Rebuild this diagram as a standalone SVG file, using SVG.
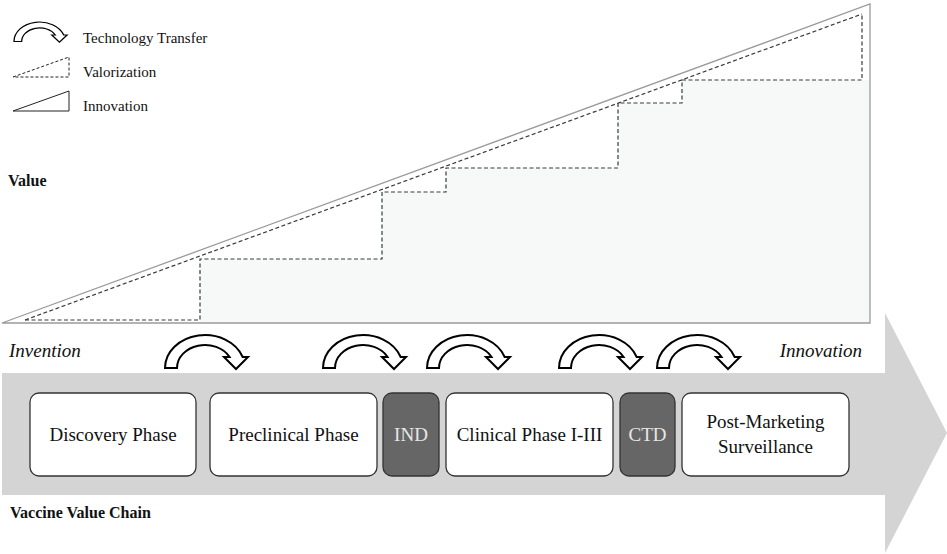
<svg xmlns="http://www.w3.org/2000/svg" xmlns:xlink="http://www.w3.org/1999/xlink" width="947" height="554" viewBox="0 0 947 554" font-family="'Liberation Serif', 'DejaVu Serif', serif">
  <defs>
    <style>
      text { font-family: 'Liberation Serif', 'DejaVu Serif', serif; }
      .legend { font-size: 15px; fill: #111; }
      .label { font-size: 19px; fill: #111; text-anchor: middle; }
      .label-dark { font-size: 19px; fill: #e6e6e6; text-anchor: middle; }
      .box { fill: #ffffff; stroke: #333333; stroke-width: 1.3; }
      .box-dark { fill: #666666; stroke: #333333; stroke-width: 1.3; }
      .dash { fill: none; stroke: #3a3a3a; stroke-width: 1.2; stroke-dasharray: 4 2.5; }
      .transfer { fill: #ffffff; stroke: #000000; stroke-width: 2; stroke-linejoin: miter; }
    </style>
    <!-- curved "technology transfer" arrow, drawn at the first stage position -->
    <path id="tt" class="transfer" d="M165,368 A40,33 0 0 1 242.7,357 L248,357 L236,369 L224,357 L229.6,357 A28,23 0 0 0 177,368 Z"/>
  </defs>

  <rect width="947" height="554" fill="#ffffff"/>

  <!-- legend -->
  <g id="legend">
    <use xlink:href="#tt" transform="translate(14,22) scale(0.64,0.59) translate(-165,-335)"/>
    <text class="legend" x="83" y="43">Technology Transfer</text>
    <path d="M13,77 L69,57 V77 Z" fill="none" stroke="#222" stroke-width="1" stroke-dasharray="3 2"/>
    <text class="legend" x="83" y="77">Valorization</text>
    <path d="M13,111 L69,91 V111 Z" fill="none" stroke="#222" stroke-width="1"/>
    <text class="legend" x="83" y="111">Innovation</text>
  </g>

  <!-- value chart: innovation triangle and valorization staircase -->
  <g id="value-chart">
    <polygon points="200,323 200,259 382,259 382,192 446,192 446,168 618,168 618,103 682,103 682,80 870,80 870,323" fill="#f7f9f9"/>
    <polygon points="2,323 870,4 870,323" fill="none" stroke="#9a9a9a" stroke-width="1.3"/>
    <path class="dash" d="M25,320 L862,14"/>
    <path class="dash" d="M25,320 H200 V259 H382 V192 H446 V168 H618 V103 H682 V80 H862 V14"/>
    <text x="8" y="186" font-size="16" font-weight="bold" fill="#111">Value</text>
  </g>

  <!-- value chain arrow -->
  <g id="chain">
    <polygon points="2,373 885,373 885,313 947,433 885,553 885,495 2,495" fill="#d4d4d4"/>
    <text x="9" y="357" font-size="19" font-style="italic" fill="#111">Invention</text>
    <text x="862" y="357" font-size="19" font-style="italic" fill="#111" text-anchor="end">Innovation</text>
    <text x="10" y="518" font-size="16" font-weight="bold" fill="#111">Vaccine Value Chain</text>
  </g>

  <!-- stages -->
  <g id="discovery">
    <rect class="box" x="30" y="393" width="166" height="83" rx="9"/>
    <text class="label" x="113" y="441">Discovery Phase</text>
  </g>
  <g id="preclinical">
    <rect class="box" x="210" y="393" width="167" height="83" rx="9"/>
    <text class="label" x="293.5" y="441">Preclinical Phase</text>
  </g>
  <g id="ind">
    <rect class="box-dark" x="383" y="393" width="56" height="83" rx="9"/>
    <text class="label-dark" x="411" y="441">IND</text>
  </g>
  <g id="clinical">
    <rect class="box" x="446" y="393" width="167" height="83" rx="9"/>
    <text class="label" x="529.5" y="441">Clinical Phase I-III</text>
  </g>
  <g id="ctd">
    <rect class="box-dark" x="620" y="393" width="55" height="83" rx="9"/>
    <text class="label-dark" x="647.5" y="441">CTD</text>
  </g>
  <g id="post-marketing">
    <rect class="box" x="682" y="393" width="167" height="83" rx="9"/>
    <text class="label" x="765.5" y="428">Post-Marketing</text>
    <text class="label" x="765.5" y="453">Surveillance</text>
  </g>

  <!-- technology transfer arrows between stages -->
  <g id="connectors">
    <use xlink:href="#tt"/>
    <use xlink:href="#tt" transform="translate(158,0)"/>
    <use xlink:href="#tt" transform="translate(262,0)"/>
    <use xlink:href="#tt" transform="translate(394,0)"/>
    <use xlink:href="#tt" transform="translate(492,0)"/>
  </g>
</svg>
